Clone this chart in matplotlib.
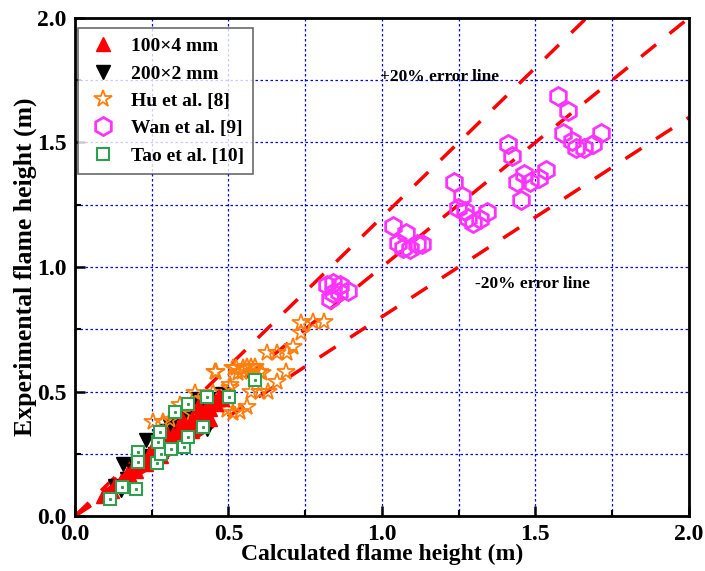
import numpy as np
import matplotlib
matplotlib.use('Agg')
import matplotlib.pyplot as plt
from matplotlib.ticker import MultipleLocator

plt.rcParams['font.family'] = ['Liberation Serif', 'DejaVu Serif']
plt.rcParams['font.weight'] = 'bold'
plt.rcParams['mathtext.default'] = 'regular'

# 100x4 mm (red up triangles)
x_100 = [0.09, 0.10, 0.12, 0.13, 0.15, 0.16, 0.17, 0.18, 0.19, 0.20, 0.21, 0.22, 0.23, 0.24,
         0.25, 0.26, 0.27, 0.28, 0.29, 0.30, 0.31, 0.32, 0.33, 0.34, 0.35, 0.36, 0.37, 0.38,
         0.39, 0.40, 0.41, 0.42, 0.43, 0.44, 0.45, 0.46, 0.47, 0.48, 0.49, 0.30, 0.35, 0.40,
         0.25, 0.20, 0.44, 0.38, 0.28]
y_100 = [0.08, 0.09, 0.10, 0.13, 0.14, 0.15, 0.17, 0.16, 0.19, 0.18, 0.21, 0.22, 0.21, 0.25,
         0.23, 0.26, 0.27, 0.26, 0.30, 0.29, 0.31, 0.33, 0.31, 0.35, 0.34, 0.37, 0.35, 0.39,
         0.38, 0.40, 0.42, 0.41, 0.44, 0.43, 0.46, 0.45, 0.48, 0.47, 0.48, 0.33, 0.39, 0.44,
         0.27, 0.22, 0.39, 0.34, 0.24]

# 200x2 mm (black down triangles)
x_200 = [0.13, 0.15, 0.155, 0.17, 0.19, 0.20, 0.23, 0.24, 0.26, 0.28, 0.30, 0.31, 0.33, 0.35,
         0.36, 0.38, 0.40, 0.41, 0.43, 0.44, 0.46, 0.48]
y_200 = [0.12, 0.105, 0.21, 0.15, 0.18, 0.20, 0.305, 0.24, 0.25, 0.30, 0.34, 0.36, 0.35, 0.38,
         0.40, 0.37, 0.47, 0.43, 0.35, 0.46, 0.47, 0.49]

# Hu et al. [8]
x_hu = [0.255, 0.288, 0.309, 0.342, 0.38, 0.391, 0.42, 0.45, 0.456, 0.461, 0.47, 0.494, 0.505,
        0.505, 0.516, 0.516, 0.524, 0.532, 0.537, 0.543, 0.548, 0.559, 0.559, 0.575, 0.575,
        0.586, 0.603, 0.603, 0.608, 0.626, 0.630, 0.657, 0.657, 0.687, 0.690, 0.711, 0.738,
        0.738, 0.776, 0.811]
y_hu = [0.379, 0.379, 0.386, 0.446, 0.41, 0.493, 0.47, 0.493, 0.580, 0.580, 0.44, 0.426, 0.526,
        0.513, 0.593, 0.412, 0.593, 0.573, 0.419, 0.580, 0.593, 0.600, 0.437, 0.600, 0.499,
        0.597, 0.580, 0.499, 0.576, 0.656, 0.499, 0.653, 0.539, 0.580, 0.656, 0.680, 0.734,
        0.774, 0.780, 0.780]

# Wan et al. [9]
x_wan = [0.820, 0.841, 0.863, 0.888, 0.831, 0.841, 0.861,
         1.037, 1.077, 1.051, 1.070, 1.091, 1.113, 1.131,
         1.235, 1.260, 1.249, 1.270, 1.281, 1.297, 1.321, 1.344,
         1.411, 1.424, 1.439, 1.464, 1.484, 1.512, 1.536, 1.452,
         1.574, 1.607, 1.591, 1.621, 1.634, 1.658, 1.688, 1.714]
y_wan = [0.928, 0.937, 0.928, 0.905, 0.870, 0.897, 0.901,
         1.165, 1.135, 1.095, 1.075, 1.071, 1.092, 1.092,
         1.343, 1.285, 1.238, 1.225, 1.198, 1.178, 1.191, 1.222,
         1.494, 1.446, 1.343, 1.373, 1.343, 1.356, 1.390, 1.269,
         1.688, 1.627, 1.539, 1.506, 1.477, 1.477, 1.494, 1.537]

# Tao et al. [10]
x_tao = [0.114, 0.154, 0.198, 0.206, 0.206, 0.266, 0.279, 0.271, 0.277, 0.313, 0.356, 0.369,
         0.326, 0.367, 0.416, 0.431, 0.503, 0.586]
y_tao = [0.068, 0.118, 0.108, 0.258, 0.218, 0.212, 0.249, 0.298, 0.339, 0.268, 0.278, 0.318,
         0.416, 0.449, 0.359, 0.477, 0.477, 0.546]

fig = plt.figure(figsize=(7.05, 5.71), dpi=100)
ax = fig.add_axes([0.1064, 0.0963, 0.8706, 0.8722])

ax.set_xlim(0, 2.0)
ax.set_ylim(0, 2.0)

# error lines
xl = np.array([0, 2.0])
for k in [1.0, 1.2, 0.8]:
    ax.plot(xl, k * xl, color='red', lw=2.5, ls=(0, (5.5, 5)), zorder=2)

ax.plot(x_100, y_100, ls='none', marker='^', ms=10.5, color='red', mec='red',
        label='100\u00d74 mm', zorder=4)
ax.plot(x_200, y_200, ls='none', marker='v', ms=10.5, color='black', mec='black',
        label='200\u00d72 mm', zorder=3)
ax.plot(x_hu, y_hu, ls='none', marker='*', ms=13, mfc='none', mec='#ff7f0e', mew=1.3,
        label='Hu et al. [8]', zorder=3)
ax.plot(x_wan, y_wan, ls='none', marker='h', ms=13, mfc='none', mec='#ff33ff', mew=2,
        label='Wan et al. [9]', zorder=3)
ax.plot(x_tao, y_tao, ls='none', marker='s', ms=8, mfc='white', mec='#2e9e4f', mew=1.5,
        label='Tao et al. [10]', zorder=5)
ax.plot(x_tao, y_tao, ls='none', marker='s', ms=1.2, color='#2e9e4f', zorder=6)

ax.text(0.993, 1.765, '+20% error line', fontsize=12.5, fontweight='bold', va='center')
ax.text(1.303, 0.93, '-20% error line', fontsize=12.5, fontweight='bold', va='center')

ax.xaxis.set_major_locator(MultipleLocator(0.5))
ax.yaxis.set_major_locator(MultipleLocator(0.5))
ax.xaxis.set_minor_locator(MultipleLocator(0.25))
ax.yaxis.set_minor_locator(MultipleLocator(0.25))
ax.grid(True, which='both', color='blue', ls=(0, (2, 2)), lw=0.9, zorder=0)
ax.set_axisbelow(True)
ax.tick_params(which='major', direction='in', length=7, width=1.8, labelsize=17, pad=6)
ax.tick_params(which='minor', direction='in', length=4, width=1.5)
for lab in ax.get_xticklabels() + ax.get_yticklabels():
    lab.set_fontweight('bold')
for sp in ax.spines.values():
    sp.set_linewidth(2)

ax.set_xlabel('Calculated flame height (m)', fontsize=17, fontweight='bold', labelpad=-1)
ax.set_ylabel('Experimental flame height (m)', fontsize=18.5, fontweight='bold', labelpad=0)

leg = ax.legend(loc='upper left', fontsize=14, frameon=True, fancybox=False,
                edgecolor='#444444', borderpad=0.5, handletextpad=0.6, labelspacing=0.5,
                numpoints=1, borderaxespad=0, handlelength=1.6,
                bbox_to_anchor=(0.005, 0.98))
leg.get_frame().set_linewidth(1.2)
for t in leg.get_texts():
    t.set_fontweight('bold')

fig.savefig('out.png', dpi=100)
